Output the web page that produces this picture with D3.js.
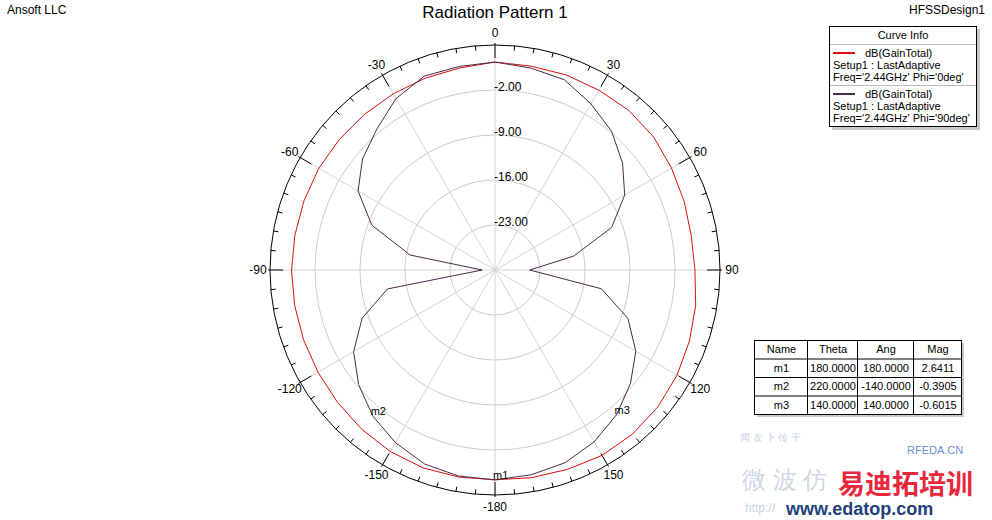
<!DOCTYPE html>
<html>
<head>
<meta charset="utf-8">
<script src="https://cdn.jsdelivr.net/npm/d3@7"></script>
<style>
  body { margin: 0; background: #fff; }
  svg { display: block; font-family: "Liberation Sans", Arial, sans-serif; }
</style>
</head>
<body>
<div id="chart"></div>
<script>
const width = 992;
const height = 520;

// theta in degrees, 10 deg steps
const thetaDeg = d3.range(-180, 181, 10);
// dB(GainTotal) Phi='0deg'
const gainPhi0 = [2.64, 2.7, 2.75, 2.6, 2.3, 2.0, 1.8, 1.7, 1.65, 1.65, 1.6, 1.6, 1.65, 1.6, 1.6, 1.65, 1.75, 1.9,
                  2.35, 2.2, 2.3, 2.3, 2.4, 2.2, 1.7, 1.3, 1.0, 1.1, 1.7, 2.2, 2.7, 3.1, 3.3, 3.3, 3.0, 2.8, 2.64];
// dB(GainTotal) Phi='90deg'
const gainPhi90 = [2.64, 2.55, 2.1, 1.0, -0.39, -2.3, -4.6, -8.0, -13.0, -28.0, -16.6, -9.6, -5.4, -3.1, -1.4, 0.8, 2.1, 2.15,
                   2.35, 1.9, 1.5, -0.15, -1.8, -4.1, -6.7, -10.7, -17.6, -24.6, -13.2, -8.0, -4.7, -2.5, -0.6, 0.86, 1.9, 2.35, 2.64];

const radialTicks = [-23, -16, -9, -2];
const angleTicks = [0, 30, 60, 90, 120, 150, 180, -150, -120, -90, -60, -30];
const angleLabels = ["0", "30", "60", "90", "120", "150", "-180", "-150", "-120", "-90", "-60", "-30"];

const markerNames = ["m1", "m2", "m3"];
const markerTheta = [180, 220, 140];
const markerAng = [180, -140, 140];
const markerMag = [2.6411, -0.3905, -0.6015];

const curveNames = ["dB(GainTotal)", "dB(GainTotal)"];
const curveSetup = ["Setup1 : LastAdaptive", "Setup1 : LastAdaptive"];
const curveFreq = ["Freq='2.44GHz' Phi='0deg'", "Freq='2.44GHz' Phi='90deg'"];
const curveColors = ["#d81010", "#4e2a48"];

const cx = 495, cy = 270;
const r = d3.scaleLinear().domain([-30, 5]).range([0, 225]);
const rad = d => d * Math.PI / 180;

const svg = d3.select("#chart").append("svg")
    .attr("width", width)
    .attr("height", height);

// header texts
svg.append("text").attr("x", 7).attr("y", 14).attr("font-size", 12).text("Ansoft LLC");
svg.append("text").attr("x", 985).attr("y", 14).attr("font-size", 12).attr("text-anchor", "end").text("HFSSDesign1");
svg.append("text").attr("x", cx).attr("y", 18).attr("font-size", 17).attr("text-anchor", "middle").text("Radiation Pattern 1");

const g = svg.append("g").attr("transform", `translate(${cx},${cy})`);

// grid rings
g.selectAll(".ring")
  .data(radialTicks)
  .enter().append("circle")
    .attr("r", d => r(d))
    .attr("fill", "none")
    .attr("stroke", "#cccccc");

// spokes
g.selectAll(".spoke")
  .data(d3.range(0, 360, 30))
  .enter().append("line")
    .attr("x2", d => r(5) * Math.sin(rad(d)))
    .attr("y2", d => -r(5) * Math.cos(rad(d)))
    .attr("stroke", "#d4d4d4");

// outer circle and ticks
g.append("circle").attr("r", r(5)).attr("fill", "none").attr("stroke", "#000");

g.selectAll(".tick")
  .data(d3.range(0, 360, 5))
  .enter().append("line")
    .attr("x1", d => (r(5) + (d % 30 === 0 ? 2 : 0)) * Math.sin(rad(d)))
    .attr("y1", d => -(r(5) + (d % 30 === 0 ? 2 : 0)) * Math.cos(rad(d)))
    .attr("x2", d => (r(5) - (d % 30 === 0 ? 13 : 5)) * Math.sin(rad(d)))
    .attr("y2", d => -(r(5) - (d % 30 === 0 ? 13 : 5)) * Math.cos(rad(d)))
    .attr("stroke", "#000");

// angle labels
g.selectAll(".alabel")
  .data(angleTicks)
  .enter().append("text")
    .attr("x", d => (r(5) + 12) * Math.sin(rad(d)))
    .attr("y", d => -(r(5) + 12) * Math.cos(rad(d)) + 4)
    .attr("text-anchor", "middle")
    .attr("font-size", 12)
    .text((d, i) => angleLabels[i]);

// radial labels
g.selectAll(".rlabel")
  .data(radialTicks)
  .enter().append("text")
    .attr("x", -1)
    .attr("y", d => -r(d) + 1)
    .attr("font-size", 12)
    .text(d => d.toFixed(2));

// curves
const line = d3.lineRadial()
    .angle(d => rad(d[0]))
    .radius(d => r(d[1]));

[gainPhi0, gainPhi90].forEach((vals, i) => {
  g.append("path")
    .datum(thetaDeg.map((t, j) => [t, vals[j]]))
    .attr("d", line)
    .attr("fill", "none")
    .attr("stroke", curveColors[i])
    .attr("stroke-width", 1);
});

// markers
g.selectAll(".mlabel")
  .data(markerNames)
  .enter().append("text")
    .attr("x", (d, i) => r(markerMag[i]) * Math.sin(rad(markerTheta[i])) - 2)
    .attr("y", (d, i) => -r(markerMag[i]) * Math.cos(rad(markerTheta[i])) - 1)
    .attr("font-size", 11)
    .text(d => d);

// legend box
const lg = svg.append("g");
lg.append("rect").attr("x", 832).attr("y", 29).attr("width", 148).attr("height", 101).attr("fill", "#c8c8c8");
lg.append("rect").attr("x", 829.5).attr("y", 26.5).attr("width", 147).attr("height", 100).attr("fill", "#fff").attr("stroke", "#000");
lg.append("text").attr("x", 903).attr("y", 39).attr("font-size", 11).attr("text-anchor", "middle").text("Curve Info");
lg.append("line").attr("x1", 830).attr("x2", 976).attr("y1", 44.5).attr("y2", 44.5).attr("stroke", "#bbb");
lg.append("line").attr("x1", 830).attr("x2", 976).attr("y1", 85.5).attr("y2", 85.5).attr("stroke", "#bbb");
curveNames.forEach((name, i) => {
  const y0 = 53 + i * 41;
  lg.append("line").attr("x1", 833).attr("x2", 855).attr("y1", y0).attr("y2", y0)
    .attr("stroke", curveColors[i]).attr("stroke-width", 2);
  lg.append("text").attr("x", 865).attr("y", y0 + 4).attr("font-size", 11).text(name);
  lg.append("text").attr("x", 833).attr("y", y0 + 16).attr("font-size", 11).text(curveSetup[i]);
  lg.append("text").attr("x", 833).attr("y", y0 + 28).attr("font-size", 11).text(curveFreq[i]);
});

// marker table
const colX = [754, 807, 857, 913, 961];
const rowY = [340, 358.5, 377, 395.5, 414];
const tableRows = [["Name", "Theta", "Ang", "Mag"]].concat(
  markerNames.map((n, i) => [n, markerTheta[i].toFixed(4), markerAng[i].toFixed(4), markerMag[i].toFixed(4)]));
const tg = svg.append("g");
tg.append("rect").attr("x", 757).attr("y", 343).attr("width", 207).attr("height", 74).attr("fill", "#c8c8c8");
tg.append("rect").attr("x", colX[0] + 0.5).attr("y", rowY[0] + 0.5)
  .attr("width", colX[4] - colX[0]).attr("height", rowY[4] - rowY[0]).attr("fill", "#fff").attr("stroke", "#000");
colX.slice(1, 4).forEach(x => tg.append("line").attr("x1", x + 0.5).attr("x2", x + 0.5)
  .attr("y1", rowY[0]).attr("y2", rowY[4]).attr("stroke", "#000"));
rowY.slice(1, 4).forEach(y => tg.append("line").attr("x1", colX[0]).attr("x2", colX[4])
  .attr("y1", y + 0.5).attr("y2", y + 0.5).attr("stroke", "#000"));
tableRows.forEach((row, ri) => {
  row.forEach((cell, ci) => {
    tg.append("text")
      .attr("x", (colX[ci] + colX[ci + 1]) / 2 + 1)
      .attr("y", (rowY[ri] + rowY[ri + 1]) / 2 + 4)
      .attr("text-anchor", "middle")
      .attr("font-size", 11)
      .text(cell);
  });
});

// watermark
const wm = svg.append("g");
wm.append("text").attr("x", 740).attr("y", 441).attr("font-size", 10).attr("fill", "#c5d3e3").text("闻 友 卜 传 千");
wm.append("text").attr("x", 907).attr("y", 454).attr("font-size", 11).attr("fill", "#6b8fd0").text("RFEDA.CN");
wm.append("text").attr("x", 742).attr("y", 488).attr("font-size", 24).attr("fill", "#b8c8dc").attr("opacity", 0.7).text("微 波 仿");
wm.append("text").attr("x", 838).attr("y", 494).attr("font-size", 27).attr("font-weight", "bold")
  .attr("font-family", "Noto Sans CJK SC").attr("fill", "#e8283c").text("易迪拓培训");
wm.append("text").attr("x", 745).attr("y", 512).attr("font-size", 12).attr("fill", "#c8d4e0").text("http://");
wm.append("text").attr("x", 786).attr("y", 515).attr("font-size", 18).attr("font-weight", "bold")
  .attr("fill", "#1d3f7a").text("www.edatop.com");
</script>
</body>
</html>
